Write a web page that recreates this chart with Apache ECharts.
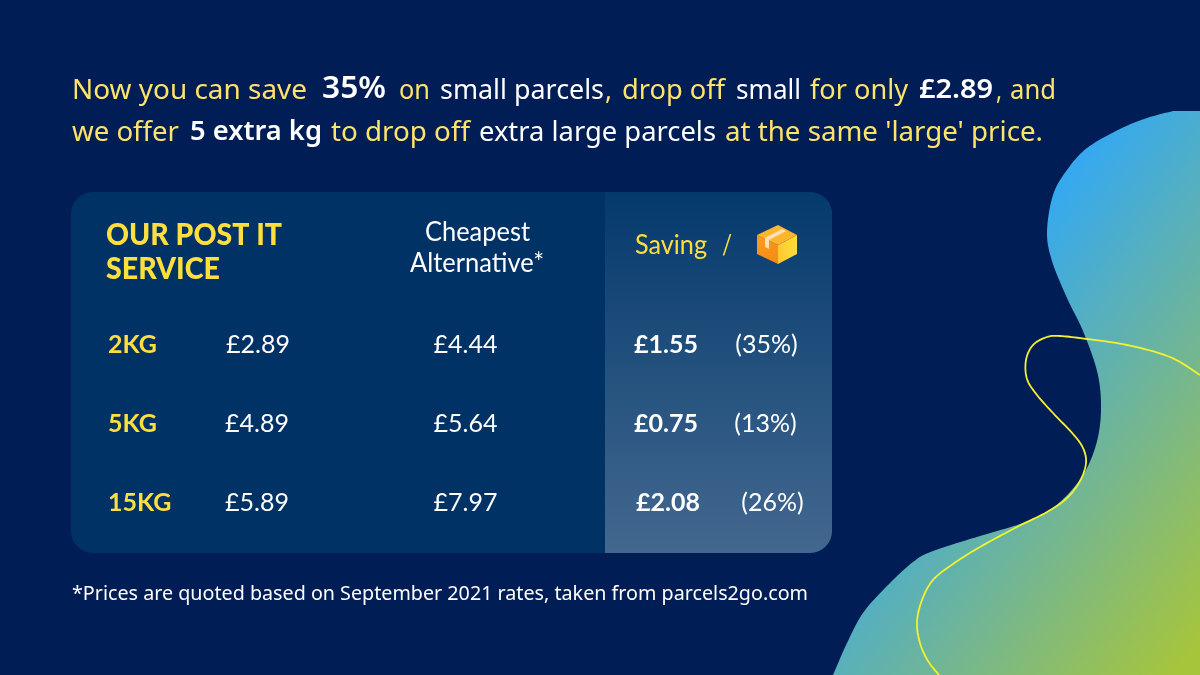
<!DOCTYPE html>
<html><head><meta charset="utf-8">
<style>html,body{margin:0;padding:0;background:#001d55}#c{width:1200px;height:675px}</style>
<script src="https://cdn.jsdelivr.net/npm/echarts@6/dist/echarts.min.js"></script>
</head><body><div id="c"></div>
<script>
const categories = ['2KG','5KG','15KG'];
const ourPrice = [2.89,4.89,5.89];
const altPrice = [4.44,5.64,7.97];
const savingValue = [1.55,0.75,2.08];
const savingPct = [35,13,26];
const YEL='#FFE36B', WHT='#ffffff', TY='#FFDF3D';

const headlineSegs=[
 ['Now you can save',72,307,91,YEL,0],['35%',322,386,89,WHT,1],['on',399,430,91,YEL,0],['small parcels',440,604,91,WHT,0],[',',605,612,91,YEL,0],
 ['drop off',622,725,91,YEL,0],['small',736,801,91,WHT,0],['for only',810,908,91,YEL,0],['£2.89',919,993,90,WHT,1],[',',996,1002,91,YEL,0],['and',1010,1056,91,YEL,0],
 ['we offer',72,179,133,YEL,0],['5 extra kg',190,322,132,WHT,1],['to drop off',331,470,133,YEL,0],['extra large parcels',479,716,133,WHT,0],["at the same 'large' price.",725,1043,133,YEL,0]
];
const foot=['*Prices are quoted based on September 2021 rates, taken from parcels2go.com',72,808,595];

const ctx=document.createElement('canvas').getContext('2d');
function fit(txt,x1,x2,y,color,weight,size,family,z){
  const font=`${weight} ${size}px ${family}`;
  ctx.font=font;
  const w=ctx.measureText(txt).width;
  return {type:'text',x:x1,y:y,scaleX:(x2-x1)/w,z:z||5,
    style:{text:txt,fill:color,font:font,textAlign:'left',textVerticalAlign:'middle',textBaseline:'middle'}};
}
function spline(p,n){
  const out=[];
  for(let i=0;i<p.length-1;i++){
    const a=p[Math.max(i-1,0)],b=p[i],c=p[i+1],d=p[Math.min(i+2,p.length-1)];
    for(let k=0;k<n;k++){
      const t=k/n,t2=t*t,t3=t2*t;
      out.push([0,1].map(j=>.5*(2*b[j]+(c[j]-a[j])*t+(2*a[j]-5*b[j]+4*c[j]-d[j])*t2+(3*b[j]-a[j]-3*c[j]+d[j])*t3)));
    }
  }
  out.push(p[p.length-1]);
  return out;
}
const blobEdge=[[1173,111],[1147,118],[1120,129],[1087,148],[1067,170],[1053,195],[1047,232],[1052,261],[1067,298],[1083,331],[1097,371],[1101,404],[1098,437],[1087,468],[1070,492],[1047,512],[1020,524],[980,536],[933,551],[913,562],[887,586],[863,613],[847,643],[833,675]];
const curve=[[1200,375],[1170,357],[1127,345],[1087,339],[1060,336],[1047,337],[1033,345],[1026,360],[1027,379],[1037,395],[1053,413],[1073,434],[1083,448],[1086,463],[1080,481],[1067,498],[1047,512],[1017,527],[980,547],[953,564],[933,580],[922,600],[917,622],[920,643],[928,661],[939,675]];
const g=[];
g.push({type:'rect',shape:{x:0,y:0,width:1200,height:675},style:{fill:'#001d55'},z:0});
g.push({type:'polygon',z:1,shape:{points:[[1200,111],...spline(blobEdge,10),[1200,675]]},
  style:{fill:{type:'linear',global:true,x:1060,y:190,x2:1368,y2:428,colorStops:[{offset:0,color:'#36A9EE'},{offset:.5,color:'#70B596'},{offset:1,color:'#A7C53B'}]}}});
g.push({type:'polyline',z:2,shape:{points:spline(curve,10)},style:{stroke:'#F2F22E',lineWidth:1.8,fill:null}});
g.push({type:'rect',z:1,shape:{x:71,y:192,width:761,height:361,r:22},style:{fill:'#003265'}});
g.push({type:'rect',z:2,shape:{x:605,y:192,width:227,height:361,r:[0,22,22,0]},
  style:{fill:{type:'linear',x:0,y:0,x2:0,y2:1,colorStops:[{offset:0,color:'#053A6D'},{offset:1,color:'#43688F'}]}}});
headlineSegs.forEach(s=>g.push(fit(s[0],s[1],s[2],s[3],s[4],s[5]?'600':'400',s[5]?(s[0]==='35%'?31:27):27,'"Noto Sans"')));
g.push(fit(foot[0],foot[1],foot[2],foot[3],WHT,'400',19,'"Noto Sans"'));
const lato='Lato';
g.push(fit('OUR POST IT',106,282,235,TY,'900',30,lato));
g.push(fit('SERVICE',106,220,269,TY,'900',30,lato));
g.push(fit('Cheapest',425,530,233,WHT,'400',26,lato));
g.push(fit('Alternative*',410,544,264,WHT,'400',26,lato));
g.push(fit('Saving',635,707,246,TY,'400',26,lato));
g.push(fit('/',722,732,246,TY,'400',26,lato));
// parcel icon
g.push({type:'polygon',z:6,shape:{points:[[757,235],[778,245],[778,264],[757,254]]},style:{fill:{type:'linear',x:0,y:0,x2:1,y2:1,colorStops:[{offset:0,color:'#FF9A1F'},{offset:1,color:'#F58A12'}]}}});
g.push({type:'polygon',z:6,shape:{points:[[778,245],[797,235],[797,254],[778,264]]},style:{fill:{type:'linear',x:0,y:0,x2:1,y2:0,colorStops:[{offset:0,color:'#FFC92E'},{offset:1,color:'#FFDD3C'}]}}});
g.push({type:'polygon',z:6,shape:{points:[[757,235],[778,225],[797,235],[778,245]]},style:{fill:'#FFB52B'}});
g.push({type:'polygon',z:7,shape:{points:[[765,238],[769,240],[786,231],[782,229]]},style:{fill:'#FFE0B8'}});
g.push({type:'polygon',z:7,shape:{points:[[765,238],[769,240],[769,249],[765,247]]},style:{fill:'#FFE0B8'}});

// column anchors on a hidden pixel-wide x axis
const colX={kg:108,our:258,alt:465.5,sav:666,pct:766.5};
const rowNudge={sav:[0,0,2],pct:[0,-1,6],our:[0,-1,-1]};
function col(key,fmt,src,align,weight,color){
  return {type:'scatter',symbolSize:0,silent:true,z:10,itemStyle:{opacity:1},
    data:src.map((v,i)=>[colX[key]+((rowNudge[key]||[])[i]||0),i]),
    label:{show:true,opacity:1,position:'inside',align:align,verticalAlign:'middle',color:color,fontFamily:lato,fontSize:25,fontWeight:weight,
      formatter:p=>fmt(src[p.dataIndex])}};
}
const money=v=>'£'+v.toFixed(2);
echarts.init(document.getElementById('c'),null,{renderer:'canvas'}).setOption({
  animation:false,backgroundColor:'#001d55',
  grid:{left:0,width:1200,top:305.5,height:237},
  xAxis:{type:'value',min:0,max:1200,show:false},
  yAxis:{type:'category',data:categories,inverse:true,show:false},
  graphic:{elements:g},
  series:[
    col('kg',v=>v,categories,'left','bold',TY),
    col('our',money,ourPrice,'center','normal',WHT),
    col('alt',money,altPrice,'center','normal',WHT),
    col('sav',money,savingValue,'center','bold',WHT),
    col('pct',v=>'('+v+'%)',savingPct,'center','normal',WHT)
  ]
});
</script></body></html>
